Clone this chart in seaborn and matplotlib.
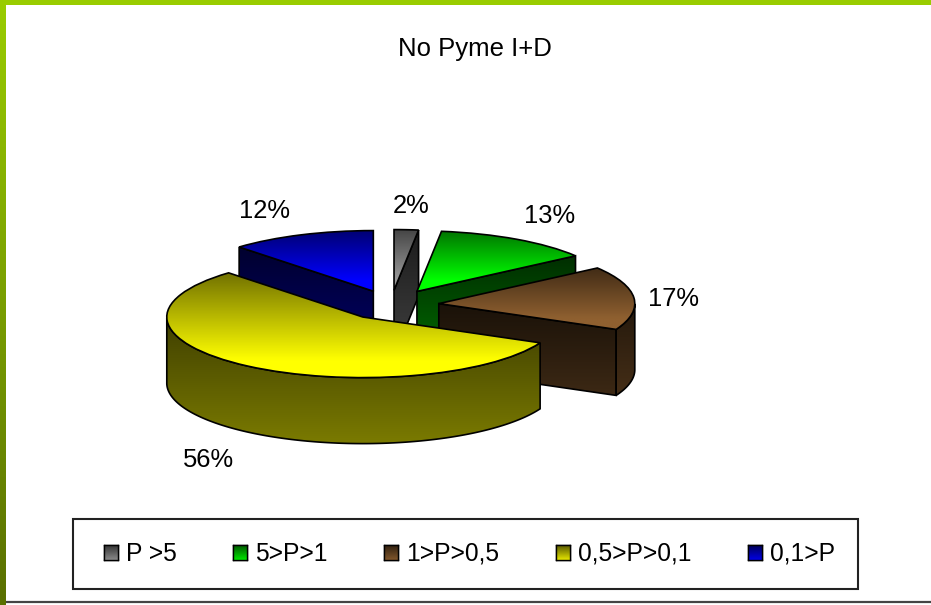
import matplotlib
matplotlib.use("Agg")
import matplotlib.pyplot as plt
import numpy as np
import seaborn as sns
from matplotlib.colors import to_rgb
from matplotlib.lines import Line2D
from matplotlib.patches import Patch, Polygon, Rectangle

# chart data
categories = ["P >5", "5>P>1", "1>P>0,5", "0,5>P>0,1", "0,1>P"]
shares = [2, 13, 17, 56, 12]
slice_colors = ["#999999", "#00ff00", "#8f6030", "#ffff00", "#0000ff"]

# layout, pixels of the 931x605 picture
W, H = 931, 605
PIE_X, PIE_Y = 391, 305
RADIUS_X, RADIUS_Y = 196, 60.6
DEPTH = 66 / RADIUS_Y
EXPLODE = [0.245, 0.26, 0.245, 0.245, 0.245]
DRAW_ORDER = [4, 0, 1, 2, 3]
LABEL_XY = [(411, 206), (550, 216), (674, 299), (208, 460), (265, 211)]

sns.set_theme(style="white")
plt.rcParams["font.family"] = ["Liberation Sans", "DejaVu Sans"]


def grad(top, bottom, reach=1.0):
    # reach > 1 makes the colour saturate before the bottom edge
    k = np.clip(np.linspace(0, reach, 64), 0, 1)[:, None]
    return (top + (bottom - top) * k).reshape(64, 1, 3)


def paint(ax, patch, top, bottom, z, reach=1.0):
    # vertical gradient clipped to the patch, black outline on top of it
    ext = patch.get_path().transformed(patch.get_patch_transform()).get_extents()
    im = ax.imshow(grad(top, bottom, reach), extent=(ext.x0, ext.x1, ext.y0, ext.y1),
                   aspect="auto", interpolation="bilinear", zorder=z)
    patch.set_facecolor("none")
    patch.set_edgecolor("black")
    patch.set_linewidth(1.2)
    patch.set_zorder(z + 0.1)
    im.set_clip_path(patch)


fig = plt.figure(figsize=(W / 100, H / 100), dpi=100, facecolor="white")
ax = fig.add_axes([0, 0, 1, 1])

wedges, _ = ax.pie(shares, explode=EXPLODE, startangle=90, counterclock=False,
                   colors=slice_colors, radius=1)

for z, i in enumerate(DRAW_ORDER):
    w = wedges[i]
    base = np.array(to_rgb(slice_colors[i]))
    cx, cy = w.center
    z = z * 10 + 1
    t1, t2 = np.radians(w.theta1), np.radians(w.theta2)

    # radial cut faces that look towards the viewer
    for t, normal in [(t1, t1 - np.pi / 2), (t2, t2 + np.pi / 2)]:
        if np.sin(normal) < -1e-6:
            rim = (cx + np.cos(t), cy + np.sin(t))
            face = Polygon([(cx, cy), rim, (rim[0], rim[1] - DEPTH), (cx, cy - DEPTH)])
            ax.add_patch(face)
            paint(ax, face, base * 0.18, base * 0.42, z)

    # outer rim, only its front half
    th = np.linspace(t1, t2, 200)
    th = th[np.sin(th) <= 0]
    if len(th) > 1:
        xs, ys = cx + np.cos(th), cy + np.sin(th)
        rim = Polygon(np.r_[np.c_[xs, ys], np.c_[xs, ys - DEPTH][::-1]])
        ax.add_patch(rim)
        paint(ax, rim, base * 0.25, base * 0.48, z + 1)

    paint(ax, w, base * 0.45, base, z + 2, reach=1.2)

for share, (px, py) in zip(shares, LABEL_XY):
    ax.text((px - PIE_X) / RADIUS_X, (PIE_Y - py) / RADIUS_Y, f"{share}%",
            ha="center", va="center", fontsize=18.4, color="black", zorder=100)

ax.set_aspect("auto")
ax.set_xlim(-PIE_X / RADIUS_X, (W - PIE_X) / RADIUS_X)
ax.set_ylim((PIE_Y - H) / RADIUS_Y, PIE_Y / RADIUS_Y)
ax.axis("off")

fig.suptitle("No Pyme I+D", x=475 / W, y=1 - 49 / H, ha="center", va="center",
             fontsize=18.5, color="black")

# legend, its box is drawn apart so it can sit where the reference has it
fig.add_artist(Rectangle((73 / W, 1 - 589 / H), 785 / W, 70 / H, transform=fig.transFigure,
                         facecolor="white", edgecolor="#222222", linewidth=1.5))
handles = [Patch(facecolor=c, edgecolor="black") for c in slice_colors]
leg = fig.legend(handles, categories, ncol=5, loc="center",
                 bbox_to_anchor=(469.5 / W, 1 - 554 / H), fontsize=17.7,
                 frameon=False, handlelength=0.57, handleheight=0.6, handletextpad=0.33,
                 columnspacing=2.3, borderpad=0, borderaxespad=0)
for t in leg.get_texts():
    t.set_color("black")

# swatches get the same gradient as the slices
fig.canvas.draw()
for p, c in zip(leg.get_patches(), slice_colors):
    box = p.get_window_extent().transformed(fig.transFigure.inverted())
    sw = fig.add_axes([box.x0, box.y0, box.width, box.height], zorder=20)
    sw.imshow(grad(np.array(to_rgb(c)) * 0.3, np.array(to_rgb(c)) * 0.9), aspect="auto")
    sw.set_xticks([])
    sw.set_yticks([])
    for s in sw.spines.values():
        s.set_visible(True)
        s.set_color("black")
        s.set_linewidth(1)

# slide decoration
fig.add_artist(Rectangle((0, 1 - 5 / H), 1, 5 / H, transform=fig.transFigure,
                         facecolor="#99cc00", edgecolor="none"))
side = fig.add_axes([0, 0, 6 / W, 1], zorder=30)
side.imshow(grad(np.array(to_rgb("#99cc00")), np.array(to_rgb("#5a7000"))),
            aspect="auto", interpolation="bilinear")
side.axis("off")
fig.add_artist(Line2D([6 / W, 1], [1 - 601.5 / H] * 2, transform=fig.transFigure,
                      color="#444444", linewidth=1.6))

fig.savefig("out.png", dpi=100)
